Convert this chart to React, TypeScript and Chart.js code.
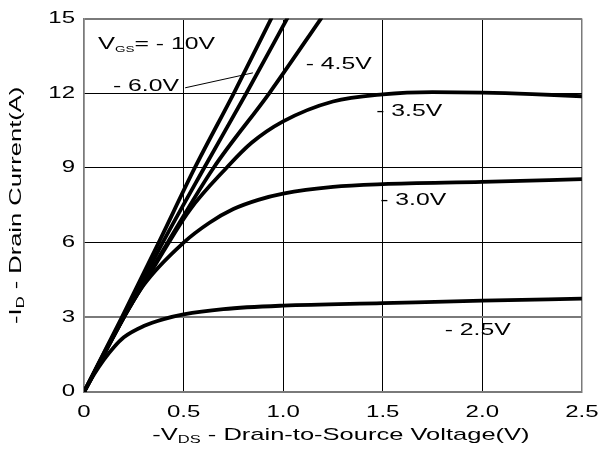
import React, { useEffect, useRef } from "react";
import { Chart, registerables } from "chart.js";

Chart.register(...registerables);

// ---- data ----
const vgsLabels = ["-10V", "-6.0V", "-4.5V", "-3.5V", "-3.0V", "-2.5V"];

const vds10 = [0, 0.19, 0.375, 0.556, 0.752, 0.94];
const id10 = [0, 3, 6, 9, 12, 15];

const vds6 = [0, 0.2, 0.395, 0.603, 0.815, 1.02];
const id6 = [0, 3, 6, 9, 12, 15];

const vds45 = [0, 0.2, 0.42, 0.65, 0.93, 1.19];
const id45 = [0, 3, 6, 9, 12, 15];

const vds35 = [0, 0.2, 0.35, 0.53, 0.715, 0.84, 1.0, 1.25, 1.5, 1.75, 2.0, 2.25, 2.5];
const id35 = [0, 3, 5.0, 7.3, 9.0, 10.0, 10.87, 11.67, 11.96, 12.05, 12.03, 11.97, 11.88];

const vds30 = [0, 0.15, 0.3, 0.5, 0.63, 0.75, 0.875, 1.0, 1.25, 1.5, 2.0, 2.5];
const id30 = [0, 2.3, 4.3, 6.0, 6.8, 7.35, 7.72, 7.97, 8.24, 8.35, 8.44, 8.55];

const vds25 = [0, 0.05, 0.1, 0.15, 0.2, 0.3, 0.4, 0.5, 0.7, 1.0, 1.5, 2.0, 2.5];
const id25 = [0, 0.7, 1.3, 1.8, 2.2, 2.65, 2.93, 3.12, 3.33, 3.47, 3.57, 3.67, 3.75];

const xTicks = [0, 0.5, 1.0, 1.5, 2.0, 2.5];
const xTickLabels = ["0", "0.5", "1.0", "1.5", "2.0", "2.5"];
const yTicks = [0, 3, 6, 9, 12, 15];
const yTickLabels = ["0", "3", "6", "9", "12", "15"];

const seriesX = [vds10, vds6, vds45, vds35, vds30, vds25];
const seriesY = [id10, id6, id45, id35, id30, id25];

// ---- styling ----
const SX = 1.5; // horizontal stretch of the lettering
const FAMILY = "'Liberation Sans', Arial, Helvetica, sans-serif";

type Part = { text: string; size: number; dy?: number };

function stretchedText(
  ctx: CanvasRenderingContext2D,
  parts: Part[],
  x: number,
  y: number,
  align: "left" | "center" | "right" = "left"
) {
  let total = 0;
  const widths = parts.map((p) => {
    ctx.font = `${p.size}px ${FAMILY}`;
    const w = ctx.measureText(p.text).width * SX;
    total += w;
    return w;
  });
  let cx = align === "center" ? x - total / 2 : align === "right" ? x - total : x;
  parts.forEach((p, i) => {
    ctx.save();
    ctx.font = `${p.size}px ${FAMILY}`;
    ctx.translate(cx, y + (p.dy || 0));
    ctx.scale(SX, 1);
    ctx.textAlign = "left";
    ctx.textBaseline = "alphabetic";
    ctx.fillStyle = "#000";
    ctx.fillText(p.text, 0, 0);
    ctx.restore();
    cx += widths[i];
  });
}

function stretchLabels(scale: any) {
  if (!scale || scale.__stretched) return;
  scale.__stretched = true;
  scale.drawLabels = function (area: any) {
    if (!this.options.ticks.display) return;
    const ctx: CanvasRenderingContext2D = this.ctx;
    const items = this.getLabelItems(area);
    for (const item of items) {
      const o = item.options;
      ctx.save();
      ctx.translate(o.translation[0], o.translation[1]);
      if (o.rotation) ctx.rotate(o.rotation);
      ctx.scale(SX, 1);
      ctx.font = item.font.string;
      ctx.fillStyle = o.color;
      ctx.textAlign = o.textAlign;
      ctx.textBaseline = o.textBaseline;
      const lab = Array.isArray(item.label) ? item.label[0] : item.label;
      ctx.fillText(String(lab), 0, item.textOffset);
      ctx.restore();
    }
  };
}

// annotation anchors in data units (V, A)
const curveNotes = [
  { x: 1.113, y: 13.21, text: "- 4.5V" },
  { x: 1.467, y: 11.31, text: "- 3.5V" },
  { x: 1.487, y: 7.74, text: "- 3.0V" },
  { x: 1.811, y: 2.52, text: "- 2.5V" },
  { x: 0.145, y: 12.34, text: "- 6.0V" },
];

const annotationPlugin = {
  id: "annotations",
  beforeDraw(chart: any) {
    stretchLabels(chart.scales.x);
    stretchLabels(chart.scales.y);
  },
  afterDraw(chart: any) {
    const ctx: CanvasRenderingContext2D = chart.ctx;
    const xs = chart.scales.x;
    const ys = chart.scales.y;
    const area = chart.chartArea;
    const NOTE = 16.5;

    // V_GS = -10V
    stretchedText(
      ctx,
      [
        { text: "V", size: 17 },
        { text: "GS", size: 9, dy: 3 },
        { text: "= - 10V", size: 16.5 },
      ],
      xs.getPixelForValue(0.07),
      ys.getPixelForValue(14.03) + 6.5
    );

    for (const n of curveNotes) {
      stretchedText(
        ctx,
        [{ text: n.text, size: NOTE }],
        xs.getPixelForValue(n.x),
        ys.getPixelForValue(n.y) + 6
      );
    }

    // leader line for -6.0V
    ctx.save();
    ctx.strokeStyle = "#000";
    ctx.lineWidth = 1;
    ctx.beginPath();
    ctx.moveTo(xs.getPixelForValue(0.508), ys.getPixelForValue(12.22));
    ctx.lineTo(xs.getPixelForValue(0.848), ys.getPixelForValue(12.82));
    ctx.stroke();
    ctx.restore();

    // x axis title
    stretchedText(
      ctx,
      [
        { text: "-V", size: 17 },
        { text: "DS", size: 11, dy: 3 },
        { text: " - Drain-to-Source Voltage(V)", size: 17 },
      ],
      (area.left + area.right) / 2 + 8,
      440,
      "center"
    );

    // y axis title (rotated)
    ctx.save();
    ctx.translate(21, (area.top + area.bottom) / 2);
    ctx.rotate(-Math.PI / 2);
    stretchedText(
      ctx,
      [
        { text: "-I", size: 17 },
        { text: "D", size: 11, dy: 3 },
        { text: " - Drain Current(A)", size: 17 },
      ],
      0,
      0,
      "center"
    );
    ctx.restore();
  },
};

export default function App() {
  const canvasRef = useRef<HTMLCanvasElement | null>(null);

  useEffect(() => {
    document.body.style.margin = "0";
    const canvas = canvasRef.current;
    if (!canvas) return;

    const datasets = vgsLabels.map((label, i) => ({
      label: "VGS = " + label,
      data: seriesX[i].map((x, j) => ({ x, y: seriesY[i][j] })),
      borderColor: "#000",
      backgroundColor: "#000",
      borderWidth: 3.8,
      pointRadius: 0,
      fill: false,
      cubicInterpolationMode: "monotone" as const,
      borderCapStyle: "round" as const,
      borderJoinStyle: "round" as const,
    }));

    const chart = new Chart(canvas, {
      type: "line",
      data: { datasets },
      options: {
        animation: false,
        responsive: false,
        devicePixelRatio: 1,
        layout: { padding: { left: 0, top: 14, right: 19, bottom: 0 } },
        plugins: {
          legend: { display: false },
          tooltip: { enabled: false },
          title: { display: false },
        },
        scales: {
          x: {
            type: "linear",
            min: 0,
            max: 2.5,
            afterBuildTicks: (s: any) => {
              s.ticks = xTicks.map((v) => ({ value: v }));
            },
            afterFit: (s: any) => {
              s.height = 58;
            },
            ticks: {
              color: "#000",
              padding: 11,
              font: { family: FAMILY, size: 16 },
              callback: (v: any) => {
                const k = xTicks.indexOf(Number(v));
                return k >= 0 ? xTickLabels[k] : "";
              },
            },
            grid: {
              drawTicks: false,
              color: (c: any) =>
                c.tick && (c.tick.value === 0 || c.tick.value === 2.5) ? "#7a7a7a" : "#000",
              lineWidth: (c: any) =>
                c.tick && (c.tick.value === 0 || c.tick.value === 2.5) ? 1.5 : 1,
            },
            border: { display: true, color: "#7a7a7a", width: 2 },
          },
          y: {
            type: "linear",
            min: 0,
            max: 15,
            afterBuildTicks: (s: any) => {
              s.ticks = yTicks.map((v) => ({ value: v }));
            },
            afterFit: (s: any) => {
              s.width = 84;
            },
            ticks: {
              color: "#000",
              padding: 9,
              font: { family: FAMILY, size: 16 },
              callback: (v: any) => {
                const k = yTicks.indexOf(Number(v));
                return k >= 0 ? yTickLabels[k] : "";
              },
            },
            grid: {
              drawTicks: false,
              color: (c: any) =>
                c.tick && (c.tick.value === 3 || c.tick.value === 15 || c.tick.value === 0)
                  ? "#7a7a7a"
                  : "#000",
              lineWidth: (c: any) =>
                c.tick && (c.tick.value === 3 || c.tick.value === 15) ? 2 : 1,
            },
            border: { display: true, color: "#7a7a7a", width: 1.5 },
          },
        },
      },
      plugins: [annotationPlugin],
    });

    return () => chart.destroy();
  }, []);

  return (
    <div style={{ width: 604, height: 450, background: "#fff" }}>
      <canvas ref={canvasRef} width={604} height={450} />
    </div>
  );
}
